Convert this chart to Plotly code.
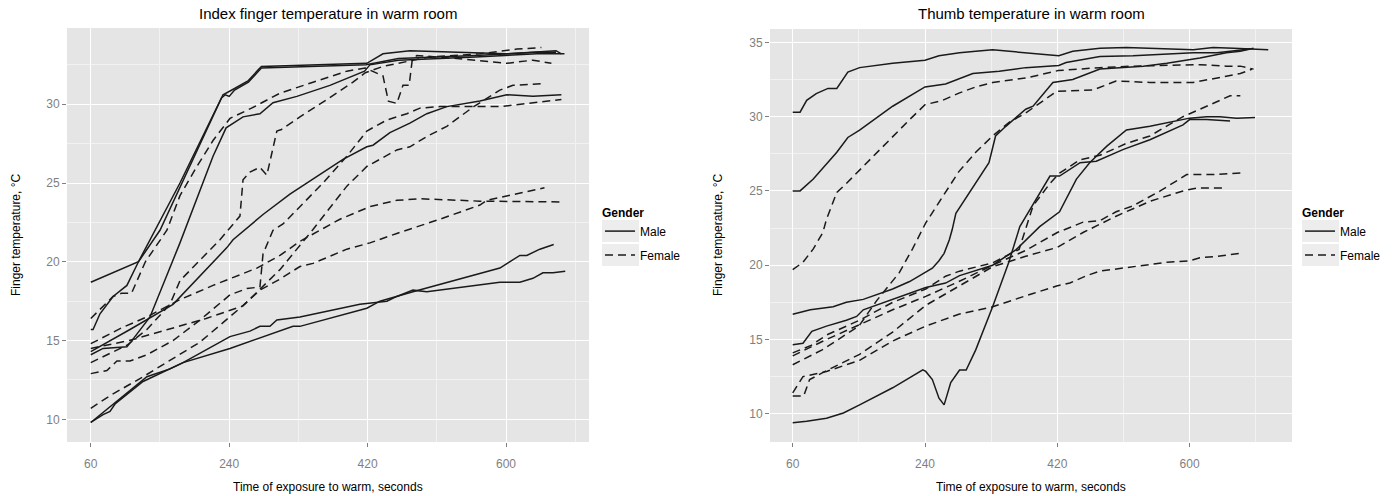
import plotly.graph_objects as go

# ---------------- Index finger (left panel) ----------------
idx_m1_t = [60, 107, 122, 176, 232, 247, 265, 278, 282, 419, 440, 475, 600, 665, 672]
idx_m1_v = [18.7, 19.7, 20.0, 25.0, 30.6, 31.0, 31.5, 32.2, 32.4, 32.6, 33.2, 33.4, 33.2, 33.4, 33.2]
idx_m2_t = [60, 63, 72, 89, 107, 122, 150, 176, 230, 235, 240, 247, 265, 278, 282, 418, 460, 560, 640, 665]
idx_m2_v = [15.7, 15.7, 16.7, 17.8, 18.5, 20.0, 22.0, 24.7, 30.4, 30.6, 30.5, 30.9, 31.4, 32.1, 32.3, 32.5, 32.9, 33.1, 33.3, 33.3]
idx_m3_t = [60, 76, 107, 112, 137, 176, 219, 236, 258, 280, 297, 328, 371, 416, 423, 460, 560, 640, 676]
idx_m3_v = [14.1, 14.5, 14.6, 14.9, 16.5, 21.2, 26.7, 28.5, 29.2, 29.4, 30.1, 30.5, 31.2, 32.1, 32.5, 32.8, 33.0, 33.2, 33.2]
idx_m4_t = [60, 111, 167, 206, 237, 245, 284, 319, 341, 388, 419, 427, 449, 475, 497, 523, 566, 601, 635, 672]
idx_m4_v = [14.3, 15.7, 17.3, 19.3, 20.9, 21.4, 23.0, 24.3, 25.0, 26.5, 27.3, 27.4, 28.2, 28.8, 29.4, 29.85, 30.2, 30.6, 30.5, 30.6]
idx_m5_t = [60, 76, 85, 92, 128, 180, 241, 267, 280, 293, 302, 332, 410, 445, 458, 479, 497, 592, 618, 635, 648, 661, 677]
idx_m5_v = [9.8, 10.3, 10.5, 11.0, 12.4, 13.6, 15.25, 15.6, 15.9, 15.9, 16.3, 16.5, 17.3, 17.5, 17.8, 18.2, 18.1, 18.7, 18.7, 18.95, 19.3, 19.3, 19.4]
idx_m6_t = [60, 107, 133, 163, 180, 241, 323, 332, 410, 419, 436, 479, 592, 605, 618, 627, 644, 662]
idx_m6_v = [9.8, 11.65, 12.7, 13.2, 13.6, 14.5, 15.9, 15.9, 16.9, 17.05, 17.5, 18.1, 19.6, 20.0, 20.4, 20.4, 20.8, 21.1]

idx_f1_t = [60, 76, 89, 100, 113, 131, 159, 176, 198, 219, 241, 269, 306, 349, 393, 417, 440, 447, 458, 466, 474, 478, 484, 536, 601, 635, 659]
idx_f1_v = [16.4, 17.15, 17.8, 18.0, 18.0, 20.0, 22.0, 24.2, 26.05, 27.7, 29.1, 29.75, 30.7, 31.4, 32.1, 32.3, 31.8, 30.2, 30.05, 31.2, 31.2, 32.8, 33.1, 32.9, 32.6, 32.8, 32.6]
idx_f2_t = [60, 107, 133, 163, 176, 228, 254, 258, 267, 280, 289, 302, 308, 332, 367, 401, 417, 440, 500, 566, 614, 646]
idx_f2_v = [13.6, 14.7, 15.7, 17.3, 18.8, 21.4, 22.9, 25.2, 25.7, 26.0, 25.5, 28.3, 28.4, 29.2, 30.3, 31.4, 32.0, 32.4, 33.0, 33.2, 33.5, 33.6]
idx_f3_t = [60, 81, 94, 111, 133, 167, 202, 241, 263, 280, 284, 297, 310, 332, 362, 393, 419, 445, 471, 488, 514, 566, 592, 672]
idx_f3_v = [12.9, 13.1, 13.7, 13.7, 14.1, 15.0, 16.3, 17.9, 18.3, 18.4, 20.5, 22.0, 22.4, 23.5, 25.0, 26.7, 28.3, 29.0, 29.4, 29.75, 29.85, 29.85, 29.85, 30.3]
idx_f4_t = [60, 110, 160, 210, 258, 306, 349, 393, 419, 436, 458, 475, 497, 523, 558, 592, 609, 645]
idx_f4_v = [14.5, 15.0, 15.7, 16.4, 17.2, 19.5, 22.05, 24.8, 26.05, 26.5, 27.1, 27.3, 27.95, 28.6, 29.85, 30.9, 31.2, 31.3]
idx_f5_t = [60, 100, 133, 176, 219, 276, 306, 332, 384, 423, 458, 488, 566, 672]
idx_f5_v = [14.8, 15.8, 16.5, 17.6, 18.5, 19.6, 20.4, 21.3, 22.7, 23.5, 23.9, 24.0, 23.85, 23.8]
idx_f6_t = [60, 85, 128, 202, 254, 280, 306, 332, 349, 393, 423, 458, 514, 566, 575, 650]
idx_f6_v = [10.7, 11.5, 12.7, 14.9, 17.05, 18.2, 18.9, 19.7, 19.9, 20.8, 21.2, 21.8, 22.7, 23.6, 23.9, 24.7]

# ---------------- Thumb (right panel) ----------------
th_m1_t = [60, 70, 79, 92, 108, 120, 135, 151, 196, 240, 259, 287, 309, 332, 422, 441, 478, 514, 605, 632, 660, 707]
th_m1_v = [30.3, 30.3, 31.1, 31.55, 31.9, 31.9, 33.0, 33.3, 33.6, 33.8, 34.1, 34.3, 34.4, 34.5, 34.1, 34.4, 34.6, 34.65, 34.5, 34.65, 34.6, 34.5]
th_m2_t = [60, 70, 88, 106, 120, 135, 151, 196, 240, 268, 305, 341, 377, 422, 432, 478, 523, 605, 637, 682]
th_m2_v = [25.0, 25.0, 25.8, 26.8, 27.6, 28.6, 29.1, 30.7, 32.0, 32.2, 32.9, 33.05, 33.3, 33.45, 33.65, 34.05, 34.1, 34.3, 34.3, 34.55]
th_m3_t = [60, 84, 115, 133, 156, 174, 196, 219, 240, 250, 259, 266, 273, 277, 282, 305, 327, 336, 350, 377, 387, 414, 441, 478, 510, 537, 569, 614, 650, 669, 687]
th_m3_v = [16.7, 17.0, 17.2, 17.5, 17.7, 18.0, 18.4, 18.9, 19.5, 19.8, 20.3, 20.8, 21.7, 22.4, 23.5, 25.2, 26.9, 28.7, 29.35, 30.5, 30.7, 32.3, 32.5, 33.2, 33.3, 33.4, 33.6, 33.95, 34.3, 34.4, 34.6]
th_m4_t = [60, 74, 86, 106, 133, 147, 156, 196, 241, 268, 287, 332, 364, 396, 423, 446, 464, 487, 514, 546, 600, 623, 641, 664, 689]
th_m4_v = [14.65, 14.75, 15.55, 15.9, 16.3, 16.55, 17.0, 17.7, 18.5, 18.8, 19.3, 20.0, 21.05, 22.6, 23.6, 25.8, 26.9, 28.0, 29.1, 29.35, 29.9, 30.0, 30.0, 29.9, 29.95]
th_m5_t = [60, 79, 106, 129, 151, 196, 237, 241, 250, 259, 266, 275, 287, 296, 309, 332, 354, 369, 410, 423, 451, 473, 510, 546, 591, 600, 623, 655]
th_m5_v = [9.4, 9.5, 9.7, 10.05, 10.6, 11.75, 12.95, 12.85, 12.3, 11.05, 10.6, 12.1, 12.95, 12.95, 14.3, 17.2, 20.2, 22.6, 26.0, 26.0, 26.9, 27.0, 27.8, 28.45, 29.45, 29.8, 29.8, 29.7]

th_f1_t = [60, 74, 88, 101, 106, 120, 133, 151, 174, 196, 219, 240, 264, 287, 309, 332, 377, 421, 478, 523, 614, 650, 669, 687]
th_f1_v = [19.7, 20.2, 21.1, 22.2, 23.1, 24.9, 25.5, 26.4, 27.6, 28.7, 29.8, 30.8, 31.1, 31.6, 32.0, 32.3, 32.6, 33.1, 33.3, 33.4, 33.5, 33.4, 33.4, 33.2]
th_f2_t = [60, 100, 150, 174, 205, 223, 241, 264, 286, 309, 332, 354, 377, 419, 469, 500, 546, 605, 637, 669, 685]
th_f2_v = [13.3, 14.3, 15.9, 17.6, 19.5, 21.1, 22.85, 24.6, 26.3, 27.6, 28.7, 29.6, 30.25, 31.7, 31.8, 32.4, 32.3, 32.3, 32.6, 32.9, 33.2]
th_f3_t = [60, 85, 106, 151, 196, 241, 268, 287, 332, 368, 387, 410, 423, 451, 478, 514, 546, 569, 591, 614, 637, 655, 669]
th_f3_v = [14.1, 14.6, 15.3, 16.3, 17.5, 18.4, 19.26, 19.6, 20.16, 21.06, 24.0, 25.5, 26.2, 27.1, 27.4, 28.2, 28.7, 29.35, 30.0, 30.5, 31.0, 31.4, 31.4]
th_f4_t = [60, 106, 151, 196, 241, 286, 332, 377, 420, 455, 478, 500, 523, 560, 596, 630, 669]
th_f4_v = [13.9, 15.0, 16.0, 17.0, 17.9, 18.9, 20.0, 21.0, 22.2, 22.9, 23.0, 23.6, 24.0, 25.0, 26.1, 26.1, 26.2]
th_f5_t = [60, 75, 83, 106, 151, 196, 241, 286, 332, 377, 420, 455, 500, 546, 591, 610, 650]
th_f5_v = [11.2, 11.2, 12.3, 12.9, 14.0, 15.5, 17.3, 18.6, 19.9, 20.6, 21.2, 22.2, 23.3, 24.3, 25.0, 25.2, 25.2]
th_f6_t = [60, 74, 106, 151, 196, 241, 286, 332, 387, 419, 437, 460, 478, 523, 569, 600, 614, 637, 669]
th_f6_v = [11.4, 12.5, 12.85, 13.6, 14.9, 15.9, 16.7, 17.2, 18.1, 18.6, 18.8, 19.3, 19.6, 19.9, 20.2, 20.3, 20.5, 20.6, 20.8]

x_ticks = [60, 240, 420, 600]
x_minor = [150, 330, 510, 690]
idx_y_ticks = [10, 15, 20, 25, 30]
th_y_ticks = [10, 15, 20, 25, 30, 35]
y_minor = [12.5, 17.5, 22.5, 27.5, 32.5]
gender_labels = ["Male", "Female"]

W, H = 1396, 496
FONT = "Liberation Sans, Arial, Helvetica, sans-serif"
LINE_COLOR = "#1a1a1a"
DASH = "8px,5px"


def px_x(p):
    return p / W


def px_y(p):
    return 1 - p / H


fig = go.Figure()

left_series = [
    (idx_m1_t, idx_m1_v, 0), (idx_m2_t, idx_m2_v, 0), (idx_m3_t, idx_m3_v, 0),
    (idx_m4_t, idx_m4_v, 0), (idx_m5_t, idx_m5_v, 0), (idx_m6_t, idx_m6_v, 0),
    (idx_f1_t, idx_f1_v, 1), (idx_f2_t, idx_f2_v, 1), (idx_f3_t, idx_f3_v, 1),
    (idx_f4_t, idx_f4_v, 1), (idx_f5_t, idx_f5_v, 1), (idx_f6_t, idx_f6_v, 1),
]
right_series = [
    (th_m1_t, th_m1_v, 0), (th_m2_t, th_m2_v, 0), (th_m3_t, th_m3_v, 0),
    (th_m4_t, th_m4_v, 0), (th_m5_t, th_m5_v, 0),
    (th_f1_t, th_f1_v, 1), (th_f2_t, th_f2_v, 1), (th_f3_t, th_f3_v, 1),
    (th_f4_t, th_f4_v, 1), (th_f5_t, th_f5_v, 1), (th_f6_t, th_f6_v, 1),
]


def add_panel(series, xa, ya, legend_name):
    shown = set()
    for t, v, g in series:
        show = g not in shown
        shown.add(g)
        fig.add_trace(go.Scatter(
            x=t, y=v, mode="lines", name=gender_labels[g],
            legendgroup=legend_name + gender_labels[g],
            showlegend=show, legend=legend_name, legendrank=g + 1,
            xaxis=xa, yaxis=ya, hoverinfo="skip",
            line=dict(color=LINE_COLOR, width=1.5, dash=("solid" if g == 0 else DASH)),
        ))


add_panel(left_series, "x", "y", "legend")
add_panel(right_series, "x2", "y2", "legend2")

axis_common = dict(
    showgrid=True, gridcolor="white", gridwidth=1.3, zeroline=False,
    ticks="outside", ticklen=4, tickwidth=1, tickcolor="#7f7f7f",
    tickfont=dict(family=FONT, size=12, color="#7f7f7f"), showline=False,
    fixedrange=True,
)
minor_grid = dict(showgrid=True, gridcolor="#F2F2F2", gridwidth=0.7, ticks="")

LEG_L, LEG_R, LEG_TOP = 600, 1300, 201

legend_common = dict(
    xanchor="left", yanchor="top",
    title=dict(text="<b>Gender</b>", font=dict(size=12, family=FONT)),
    font=dict(size=12, family=FONT), bgcolor="rgba(0,0,0,0)",
    tracegroupgap=5, itemwidth=30,
)

fig.update_layout(
    width=W, height=H, autosize=False,
    margin=dict(l=0, r=0, t=0, b=0),
    paper_bgcolor="white", plot_bgcolor="#E5E5E5",
    font=dict(family=FONT, color="black"),
    xaxis=dict(axis_common, domain=[px_x(67), px_x(589)], range=[29.1, 707.9], anchor="y",
               tickvals=x_ticks, ticklabelstandoff=7, minor=dict(minor_grid, tickvals=x_minor)),
    yaxis=dict(axis_common, domain=[px_y(442), px_y(28)], range=[8.56, 34.84], anchor="x",
               tickvals=idx_y_ticks, minor=dict(minor_grid, tickvals=y_minor)),
    xaxis2=dict(axis_common, domain=[px_x(770), px_x(1292)], range=[29.1, 739.3], anchor="y2",
                tickvals=x_ticks, ticklabelstandoff=7, minor=dict(minor_grid, tickvals=x_minor)),
    yaxis2=dict(axis_common, domain=[px_y(442), px_y(29)], range=[8.1, 35.9], anchor="x2",
                tickvals=th_y_ticks, minor=dict(minor_grid, tickvals=y_minor)),
    legend=dict(legend_common, x=px_x(LEG_L), y=px_y(LEG_TOP)),
    legend2=dict(legend_common, x=px_x(LEG_R), y=px_y(LEG_TOP)),
    showlegend=True,
)

# light grey legend key backgrounds (as in the ggplot theme)
shapes = []
for lx in (LEG_L, LEG_R):
    for top in (220, 244):
        shapes.append(dict(type="rect", xref="paper", yref="paper", layer="below",
                           x0=px_x(lx + 2), x1=px_x(lx + 39), y0=px_y(top + 22), y1=px_y(top),
                           fillcolor="#EDEDED", line=dict(width=0)))
fig.update_layout(shapes=shapes)

ann = [
    dict(text="Index finger temperature in warm room", x=px_x((67 + 589) / 2), y=px_y(14),
         font=dict(size=15, family=FONT)),
    dict(text="Thumb temperature in warm room", x=px_x((770 + 1292) / 2), y=px_y(14),
         font=dict(size=15, family=FONT)),
    dict(text="Time of exposure to warm, seconds", x=px_x((67 + 589) / 2), y=px_y(487),
         font=dict(size=12, family=FONT)),
    dict(text="Time of exposure to warm, seconds", x=px_x((770 + 1292) / 2), y=px_y(487),
         font=dict(size=12, family=FONT)),
    dict(text="Finger temperature, \u00b0C", x=px_x(16), y=px_y(235), textangle=-90,
         font=dict(size=12, family=FONT)),
    dict(text="Finger temperature, \u00b0C", x=px_x(718), y=px_y(235), textangle=-90,
         font=dict(size=12, family=FONT)),
]
for a in ann:
    a.update(xref="paper", yref="paper", showarrow=False, xanchor="center", yanchor="middle")
fig.update_layout(annotations=ann)

# remove the default 8px page margin so the 1396x496 figure fills the window exactly
fig.write_html(
    "out.html",
    config={"displayModeBar": False, "staticPlot": False},
    post_script="document.body.style.margin='0';document.body.style.overflow='hidden';",
)
